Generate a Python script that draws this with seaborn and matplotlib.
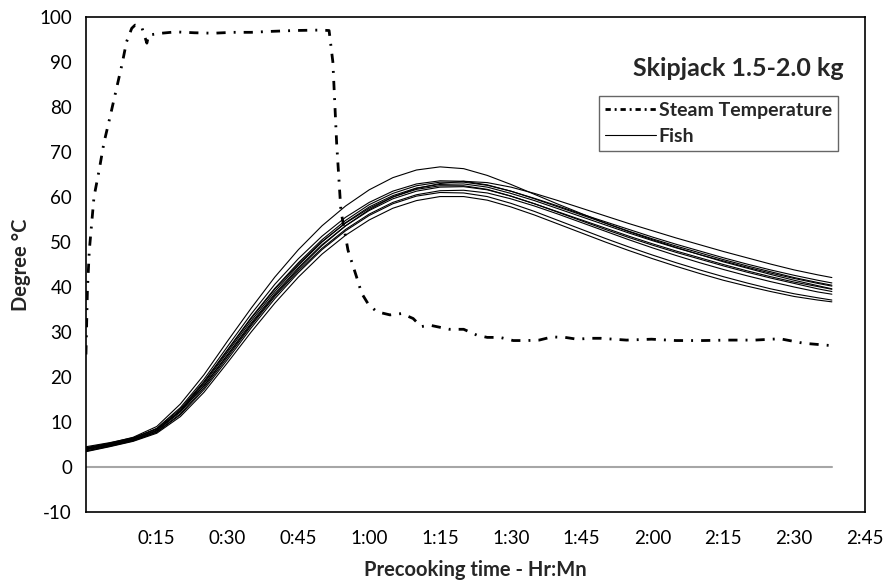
import numpy as np
import pandas as pd
import matplotlib
matplotlib.use("Agg")
import matplotlib.pyplot as plt
from matplotlib.lines import Line2D
import seaborn as sns

# ---- data (time in minutes, temperature in degree C) ----
steam_time = [0, 0.3, 0.7, 1.2, 1.7, 2.8, 3.8, 5.1, 6.4, 7.6, 8.6, 9.7, 10.4, 11.8,
              12.9, 13.3, 16, 19, 23, 27, 31, 35, 39, 44, 49.6, 51.5, 52.3, 53.1,
              54.0, 55.5, 57.3, 58.4, 59.8, 61.6, 64.4, 66.9, 69.3, 71, 72.9, 77,
              80, 82.8, 85, 87.7, 90.5, 93.4, 96, 98.7, 101.5, 104, 106.8, 109,
              114.5, 119.8, 125, 130.7, 136, 141.7, 147, 152, 157.6]
steam_temp = [25, 39, 48, 54, 60, 66, 72, 77.8, 83.8, 89.3, 94.5, 97.5, 98.2, 97.8,
              94.2, 96, 96.4, 96.7, 96.5, 96.4, 96.6, 96.6, 96.8, 97.0, 97.1, 97.0,
              90, 72, 57, 48.2, 42.3, 38.6, 36.2, 34.5, 33.8, 34.1, 33.0, 31.2,
              31.5, 30.6, 30.6, 29.3, 28.8, 28.8, 28.1, 28.1, 28.2, 28.9, 28.8,
              28.4, 28.6, 28.6, 28.2, 28.4, 28.1, 28.1, 28.2, 28.2, 28.5, 27.5, 27.0]

fish_time = [0, 5, 10, 15, 20, 25, 30, 35, 40, 45, 50, 55, 60, 65, 70, 75, 80, 85,
             90, 95, 100, 105, 110, 115, 120, 125, 130, 135, 140, 145, 150, 155, 158]

fish_1 = [4.3, 5.3, 6.6, 9.0, 14.0, 20.5, 28.0, 35.3, 42.2, 48.3, 53.6, 58.0, 61.6,
          64.3, 66.0, 66.7, 66.3, 64.8, 62.8, 60.6, 58.4, 56.3, 54.2, 52.3, 50.5,
          48.8, 47.2, 45.6, 44.2, 42.8, 41.5, 40.3, 39.6]
fish_2 = [3.4, 4.5, 5.7, 7.5, 11.2, 16.6, 23.2, 30.0, 36.4, 42.2, 47.3, 51.5, 54.9,
          57.5, 59.2, 60.1, 60.1, 59.3, 57.8, 56.0, 54.0, 52.0, 50.0, 48.1, 46.3,
          44.6, 43.0, 41.5, 40.2, 39.0, 37.9, 37.1, 36.7]
fish_3 = [4.5, 5.4, 6.5, 8.4, 12.4, 18.0, 24.8, 31.7, 38.2, 44.0, 49.2, 53.6, 57.2,
          60.0, 61.9, 63.0, 63.5, 63.2, 62.2, 60.8, 59.2, 57.5, 55.8, 54.1, 52.5,
          50.9, 49.4, 47.9, 46.5, 45.1, 43.8, 42.7, 42.1]
fish_4 = [3.6, 4.7, 5.9, 7.8, 11.8, 17.6, 24.4, 31.4, 37.9, 43.6, 48.6, 52.8, 56.2,
          58.8, 60.5, 61.4, 61.5, 60.9, 59.6, 58.0, 56.2, 54.3, 52.4, 50.5, 48.7,
          47.0, 45.4, 43.9, 42.5, 41.2, 40.0, 38.9, 38.4]
fish_5 = [4.2, 5.2, 6.4, 8.5, 12.9, 19.0, 26.1, 33.2, 39.7, 45.4, 50.5, 54.8, 58.3,
          60.8, 62.5, 63.3, 63.3, 62.6, 61.3, 59.7, 58.0, 56.2, 54.5, 52.8, 51.1,
          49.5, 48.0, 46.5, 45.1, 43.8, 42.6, 41.5, 40.9]
fish_6 = [3.9, 4.9, 6.1, 8.0, 12.2, 18.1, 25.0, 32.0, 38.5, 44.3, 49.4, 53.6, 57.0,
          59.6, 61.3, 62.2, 62.3, 61.6, 60.2, 58.5, 56.7, 54.9, 53.1, 51.3, 49.6,
          48.0, 46.5, 45.0, 43.6, 42.3, 41.1, 40.1, 39.5]
fish_7 = [4.1, 5.1, 6.3, 8.6, 13.2, 19.5, 26.8, 34.0, 40.6, 46.3, 51.3, 55.5, 58.8,
          61.3, 62.9, 63.6, 63.5, 62.7, 61.3, 59.6, 57.8, 56.0, 54.2, 52.4, 50.7,
          49.1, 47.6, 46.1, 44.7, 43.4, 42.1, 41.0, 40.4]
fish_8 = [3.5, 4.6, 5.8, 7.7, 11.6, 17.2, 23.9, 30.9, 37.4, 43.2, 48.3, 52.5, 55.9,
          58.5, 60.2, 61.0, 60.9, 60.1, 58.6, 56.8, 54.8, 52.8, 50.8, 48.9, 47.1,
          45.4, 43.8, 42.3, 40.9, 39.6, 38.5, 37.6, 37.1]
fish_9 = [4.0, 5.0, 6.2, 8.2, 12.5, 18.5, 25.5, 32.5, 39.0, 44.8, 50.0, 54.3, 57.8,
          60.3, 62.0, 62.8, 62.9, 62.2, 60.8, 59.2, 57.4, 55.6, 53.8, 52.0, 50.3,
          48.7, 47.2, 45.8, 44.4, 43.1, 41.9, 40.8, 40.2]
fish_10 = [3.8, 4.8, 6.0, 8.1, 12.6, 18.8, 25.9, 33.0, 39.5, 45.1, 50.1, 54.2, 57.5,
           60.0, 61.7, 62.5, 62.5, 61.7, 60.2, 58.5, 56.6, 54.7, 52.8, 51.0, 49.3,
           47.7, 46.2, 44.7, 43.3, 42.0, 40.8, 39.6, 39.0]

fish_series = [fish_1, fish_2, fish_3, fish_4, fish_5,
               fish_6, fish_7, fish_8, fish_9, fish_10]

x_ticks = [0, 15, 30, 45, 60, 75, 90, 105, 120, 135, 150, 165]
x_tick_labels = ["", "0:15", "0:30", "0:45", "1:00", "1:15", "1:30",
                 "1:45", "2:00", "2:15", "2:30", "2:45"]
y_ticks = [-10, 0, 10, 20, 30, 40, 50, 60, 70, 80, 90, 100]

# ---- long-form table for the fish probes ----
fish_df = pd.DataFrame({
    "time": np.tile(fish_time, len(fish_series)),
    "temp": np.concatenate(fish_series),
    "fish": np.repeat(np.arange(1, len(fish_series) + 1), len(fish_time)),
})
steam_df = pd.DataFrame({"time": steam_time, "temp": steam_temp})
zero_df = pd.DataFrame({"time": [fish_time[0], fish_time[-1]], "temp": [0, 0]})

sns.set_style("white")
plt.rcParams["font.family"] = ["Lato", "DejaVu Sans"]
plt.rcParams["axes.unicode_minus"] = False

fig = plt.figure(figsize=(8.88, 5.81), dpi=100)
ax = fig.add_axes([0.0968, 0.1188, 0.8772, 0.8519])

# zero reference line
sns.lineplot(data=zero_df, x="time", y="temp", ax=ax, color="#a6a6a6",
             linewidth=1.5, legend=False)

# fish core temperatures
sns.lineplot(data=fish_df, x="time", y="temp", units="fish", estimator=None,
             ax=ax, color="black", linewidth=0.8, legend=False)

# steam temperature (long dash - dot)
steam_lw = 2.0
steam_style = (0, (3.3, 2.9, 0.7, 2.9))
sns.lineplot(data=steam_df, x="time", y="temp", ax=ax, color="black",
             linewidth=steam_lw, linestyle=steam_style, sort=False,
             legend=False)

ax.set_xlim(0, 165)
ax.set_ylim(-10, 100)
ax.set_xticks(x_ticks)
ax.set_xticklabels(x_tick_labels)
ax.set_yticks(y_ticks)

for s in ax.spines.values():
    s.set_color("black")
    s.set_linewidth(1.2)

ax.tick_params(axis="both", which="major", direction="out", length=6, width=1,
               color="black", labelsize=13.5, labelcolor="black")
ax.tick_params(axis="x", pad=7)
ax.tick_params(axis="y", pad=4)

ax.set_xlabel("Precooking time - Hr:Mn", fontsize=14.5, fontweight="bold",
              labelpad=9)
ax.set_ylabel("Degree °C", fontsize=14.5, fontweight="bold", labelpad=6)

ax.text(0.973, 0.895, "Skipjack 1.5-2.0 kg", transform=ax.transAxes,
        ha="right", va="center", fontsize=18, fontweight="bold")

handles = [
    Line2D([], [], color="black", linewidth=steam_lw,
           linestyle=(0, (1.9, 1.4, 0.7, 1.4))),
    Line2D([], [], color="black", linewidth=0.8),
]
leg = ax.legend(handles, ["Steam Temperature", "Fish"],
                loc="upper left", bbox_to_anchor=(0.659, 0.84),
                frameon=True, fancybox=False, shadow=False,
                handlelength=2.6, handletextpad=0.15, borderpad=0.3,
                borderaxespad=0.0, labelspacing=0.45,
                prop={"size": 14, "weight": "bold"})
leg.get_frame().set_edgecolor("#404040")
leg.get_frame().set_linewidth(1.0)

fig.savefig("out.png", dpi=100, facecolor="white")
